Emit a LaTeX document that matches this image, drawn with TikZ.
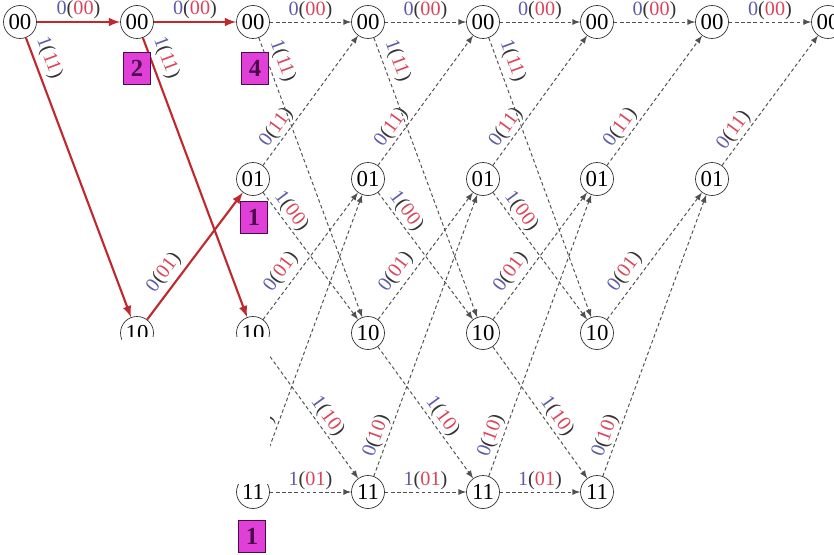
\documentclass[tikz,border=0pt]{standalone}
\usepackage{fontspec}
\setmainfont{Liberation Serif}
\usepackage{xcolor}
\usepackage{tikz}
\definecolor{inBlue}{HTML}{5C5CA8}
\definecolor{outRed}{HTML}{D9455A}
\definecolor{pathRed}{HTML}{C0282D}
\definecolor{trellisGray}{HTML}{505050}
\definecolor{countMagenta}{HTML}{E040D8}
\definecolor{countDark}{HTML}{4B0A4B}
\newcommand{\trlab}[2]{\textcolor{inBlue}{#1}(\textcolor{outRed}{#2})}

\begin{document}
\begin{tikzpicture}[>=latex, x=0.02cm, y=-0.02cm,
    st/.style={draw=black!80, circle, minimum size=0.66cm, inner sep=0pt, font=\fontsize{13}{13}\selectfont},
    tr/.style={->, draw=trellisGray, line width=0.55pt, dash pattern=on 2pt off 1.5pt},
    best/.style={->, draw=pathRed, line width=1.2pt},
    lbl/.style={sloped, above, inner sep=1pt, text=black!80, font=\fontsize{11.5}{12}\selectfont},
    far/.style={inner sep=2.5pt},
    cnt/.style={draw=countDark, fill=countMagenta, minimum width=0.54cm, minimum height=0.64cm, inner sep=0pt, text=countDark, font=\fontsize{14}{14}\selectfont\bfseries}]
  \useasboundingbox (0,0) rectangle (834,554);

  % Estados
  \node[st] (c0s00) at (20,22) {00};
  \node[st] (c1s00) at (137,22) {00};
  \node[st] (c1s10) at (137,333) {10};
  \foreach \c/\x in {2/253,3/368,4/483,5/597}
    \foreach \s/\y in {00/22,01/179,10/333,11/492}
      \node[st] (c\c s\s) at (\x,\y) {\s};
  \node[st] (c6s00) at (712,22) {00};
  \node[st] (c6s01) at (712,179) {01};
  \node[st] (c7s00) at (828,22) {00};

  % Transiciones
  \foreach \c/\d in {2/3,3/4,4/5,5/6} {
    \draw[tr] (c\c s00) -- node[lbl] {\trlab{0}{00}} (c\d s00);
    \draw[tr] (c\c s01) -- node[lbl, pos=0.24] {\trlab{0}{11}} (c\d s00);
    \draw[tr] (c\c s10) -- node[lbl, far, pos=0.31] {\trlab{0}{01}} (c\d s01);
    \draw[tr] (c\c s11) -- node[lbl, pos=0.13] {\trlab{0}{10}} (c\d s01);
  }
  \foreach \c/\d in {2/3,3/4,4/5} {
    \draw[tr] (c\c s00) -- node[lbl, far, pos=0.1] {\trlab{1}{11}} (c\d s10);
    \draw[tr] (c\c s01) -- node[lbl, pos=0.2] {\trlab{1}{00}} (c\d s10);
    \draw[tr] (c\c s10) -- node[lbl, pos=0.58] {\trlab{1}{10}} (c\d s11);
    \draw[tr] (c\c s11) -- node[lbl] {\trlab{1}{01}} (c\d s11);
  }
  \draw[tr] (c6s00) -- node[lbl] {\trlab{0}{00}} (c7s00);
  \draw[tr] (c6s01) -- node[lbl, pos=0.22] {\trlab{0}{11}} (c7s00);

  % Camino en rojo
  \draw[best] (c0s00) -- node[lbl] {\trlab{0}{00}} (c1s00);
  \draw[best] (c0s00) -- node[lbl, far, pos=0.09] {\trlab{1}{11}} (c1s10);
  \draw[best] (c1s00) -- node[lbl] {\trlab{0}{00}} (c2s00);
  \draw[best] (c1s00) -- node[lbl, far, pos=0.09] {\trlab{1}{11}} (c2s10);
  \draw[best] (c1s10) -- node[lbl, far, pos=0.3] {\trlab{0}{01}} (c2s01);

  % Parte tapada
  \fill[white] (122,337) rectangle (270,484);

  % Contadores
  \node[cnt] (k2) at (137,68) {2};
  \node[cnt] (k4) at (255,68) {4};
  \node[cnt] (k1a) at (254,217) {1};
  \node[cnt] (k1b) at (252,536) {1};
\end{tikzpicture}
\end{document}
